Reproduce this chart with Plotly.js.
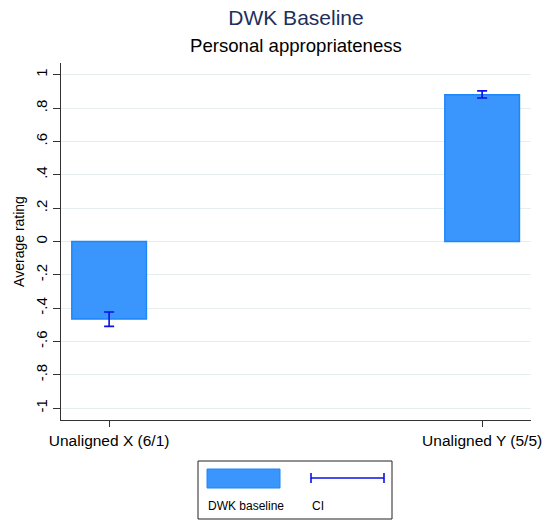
<!DOCTYPE html>
<html>
<head>
<meta charset="utf-8">
<script src="https://cdn.plot.ly/plotly-3.0.1.min.js"></script>
<style>html,body{margin:0;padding:0;background:#fff;}#chart{width:554px;height:520px;}</style>
</head>
<body>
<div id="chart"></div>
<script>
// Data
var categories = ["Unaligned X (6/1)", "Unaligned Y (5/5)"];
var meanRating = [-0.465, 0.881];
var ciLow = [-0.509, 0.861];
var ciHigh = [-0.423, 0.904];
var yTickVals = [1, 0.8, 0.6, 0.4, 0.2, 0, -0.2, -0.4, -0.6, -0.8, -1];
var yTickText = ["1", ".8", ".6", ".4", ".2", "0", "-.2", "-.4", "-.6", "-.8", "-1"];
var seriesNames = ["DWK baseline", "CI"];

var FONT = "Liberation Sans, Arial, Helvetica, sans-serif";
var barFill = "#3a96fd";
var barLine = "#1e86fb";
var ciColor = "#0a10e6";

var errPlus = meanRating.map(function (m, i) { return ciHigh[i] - m; });
var errMinus = meanRating.map(function (m, i) { return m - ciLow[i]; });

var traces = [
  {
    type: "bar",
    name: seriesNames[0],
    x: categories,
    y: meanRating,
    width: 0.2,
    marker: { color: barFill, line: { color: barLine, width: 1.5 } },
    showlegend: false
  },
  {
    type: "scatter",
    mode: "markers",
    name: seriesNames[1],
    x: categories,
    y: meanRating,
    marker: { size: 1, opacity: 0 },
    error_y: {
      type: "data",
      symmetric: false,
      array: errPlus,
      arrayminus: errMinus,
      color: ciColor,
      thickness: 1.6,
      width: 5
    },
    showlegend: false
  }
];

// legend geometry helpers (paper coords from plot area 61..531 x, 63..420 y)
function px(x) { return (x - 61) / 470; }
function py(y) { return (420 - y) / 357; }

var shapes = [
  { type: "rect", xref: "paper", yref: "paper", x0: px(198), x1: px(392), y0: py(461), y1: py(519),
    line: { color: "#222", width: 1 }, fillcolor: "rgba(0,0,0,0)" },
  { type: "rect", xref: "paper", yref: "paper", x0: px(207), x1: px(280), y0: py(469), y1: py(488),
    line: { color: barLine, width: 1 }, fillcolor: barFill },
  { type: "line", xref: "paper", yref: "paper", x0: px(311), x1: px(384), y0: py(478), y1: py(478),
    line: { color: ciColor, width: 1.6 } },
  { type: "line", xref: "paper", yref: "paper", x0: px(311), x1: px(311), y0: py(473), y1: py(483),
    line: { color: ciColor, width: 1.6 } },
  { type: "line", xref: "paper", yref: "paper", x0: px(384), x1: px(384), y0: py(473), y1: py(483),
    line: { color: ciColor, width: 1.6 } }
];

var annotations = [
  { xref: "paper", yref: "paper", x: 0.5, y: py(46), xanchor: "center", yanchor: "middle",
    text: "Personal appropriateness", showarrow: false, font: { family: FONT, size: 18.6, color: "#000" } },
  { xref: "paper", yref: "paper", x: px(206), y: py(506), xanchor: "left", yanchor: "middle",
    text: seriesNames[0], showarrow: false, font: { family: FONT, size: 12, color: "#000" } },
  { xref: "paper", yref: "paper", x: px(310), y: py(506), xanchor: "left", yanchor: "middle",
    text: seriesNames[1], showarrow: false, font: { family: FONT, size: 12, color: "#000" } }
];

var layout = {
  width: 554,
  height: 520,
  margin: { l: 61, r: 23, t: 63, b: 100, pad: 0 },
  paper_bgcolor: "#fff",
  plot_bgcolor: "#fff",
  font: { family: FONT, color: "#000" },
  title: {
    text: "DWK Baseline",
    x: 0.5, xref: "paper", xanchor: "center",
    y: 1 - 18 / 520, yref: "container", yanchor: "middle",
    font: { family: FONT, size: 21, color: "#1c2f5e" }
  },
  showlegend: false,
  bargap: 0,
  xaxis: {
    type: "category",
    range: [-0.129, 1.131],
    showline: true, linecolor: "#333", linewidth: 1,
    ticks: "outside", ticklen: 6, tickcolor: "#333", tickwidth: 1,
    showgrid: false, zeroline: false,
    tickfont: { family: FONT, size: 15.5, color: "#000" },
    fixedrange: true
  },
  yaxis: {
    range: [-1.071, 1.071],
    tickvals: yTickVals,
    ticktext: yTickText,
    tickangle: -90,
    showline: true, linecolor: "#333", linewidth: 1,
    ticks: "outside", ticklen: 7, tickcolor: "#333", tickwidth: 1,
    showgrid: true, gridcolor: "#e6eef0", gridwidth: 1,
    zeroline: false,
    tickfont: { family: FONT, size: 15, color: "#000" },
    title: { text: "Average rating", font: { family: FONT, size: 14, color: "#000" }, standoff: 5 },
    fixedrange: true
  },
  shapes: shapes,
  annotations: annotations
};

Plotly.newPlot("chart", traces, layout, { displayModeBar: false, staticPlot: true });
</script>
</body>
</html>
